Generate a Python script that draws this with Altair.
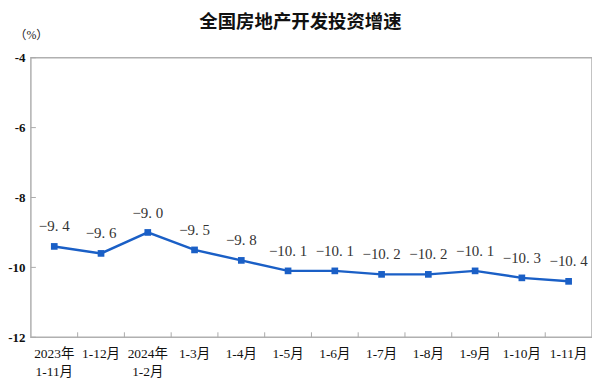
import altair as alt
import pandas as pd

categories = ["2023年\n1-11月", "1-12月", "2024年\n1-2月", "1-3月", "1-4月", "1-5月",
              "1-6月", "1-7月", "1-8月", "1-9月", "1-10月", "1-11月"]
values = [-9.4, -9.6, -9.0, -9.5, -9.8, -10.1, -10.1, -10.2, -10.2, -10.1, -10.3, -10.4]
y_ticks = [-4, -6, -8, -10, -12]

labels = [("−" + f"{abs(v):.1f}").replace(".", ". ") for v in values]
df = pd.DataFrame({"cat": categories, "val": values, "lab": labels})
ticks_df = pd.DataFrame({"cat": categories[1:]})
yt_df = pd.DataFrame({"v": y_ticks})

W, H = 564, 281
BLUE = "#1a5fc6"
SERIF = "Liberation Serif, Noto Sans CJK SC"

xscale = alt.Scale(domain=categories, paddingInner=0, paddingOuter=0)
yscale = alt.Scale(domain=[-12, -4])

x_axis = alt.Axis(title=None, labelAngle=0, tickSize=0, domain=False,
                  bandPosition=0.5, labelAlign="center",
                  labelFont=SERIF, labelFontSize=13.5, labelColor="#111",
                  labelPadding=9, labelLineHeight=18,
                  labelExpr="split(datum.label, '\\n')")
y_axis = alt.Axis(title="（%）", titleAngle=0, titleX=0, titleY=-23,
                  titleAlign="center", titleBaseline="middle",
                  titleFont=SERIF, titleFontSize=12,
                  titleFontWeight="normal", titleColor="#222",
                  values=y_ticks, tickSize=0, domain=False, grid=False,
                  labelExpr="replace(datum.label, '−', '-')",
                  labelFont=SERIF, labelFontSize=13, labelFontWeight="bold",
                  labelColor="#111", labelPadding=6)


def X(**kw):
    return alt.X("cat:N", sort=categories, scale=xscale, axis=x_axis, **kw)


def Y(field):
    return alt.Y(field, scale=yscale, axis=y_axis)


base = alt.Chart(df)
line = base.mark_line(color=BLUE, strokeWidth=2.5).encode(x=X(), y=Y("val:Q"))
pts = base.mark_square(color=BLUE, size=45, opacity=1).encode(x=X(), y=Y("val:Q"))
txt = base.mark_text(font=SERIF, fontSize=15, color="#333", dy=-20).encode(
    x=X(), y=Y("val:Q"), text="lab:N")
xt = alt.Chart(ticks_df).mark_rule(color="#aaa", strokeWidth=1).encode(
    x=X(bandPosition=0), y=alt.value(H - 5), y2=alt.value(H))
yt = alt.Chart(yt_df).mark_rule(color="#aaa", strokeWidth=1).encode(
    y=Y("v:Q"), x=alt.value(0), x2=alt.value(5))

chart = alt.layer(line, pts, txt, xt, yt).properties(
    width=W, height=H,
    autosize=alt.AutoSizeParams(type="none"),
    padding={"left": 23, "top": 49, "right": 0, "bottom": 46},
    title=alt.TitleParams("全国房地产开发投资增速", font="Noto Sans CJK SC", fontSize=18.5,
                          fontWeight="bold", color="#111", anchor="middle", dx=-11, offset=-3),
).configure_view(stroke="#b0b0b0", strokeWidth=1.5)

chart.save("out.html", embed_options={"renderer": "svg", "actions": False})
